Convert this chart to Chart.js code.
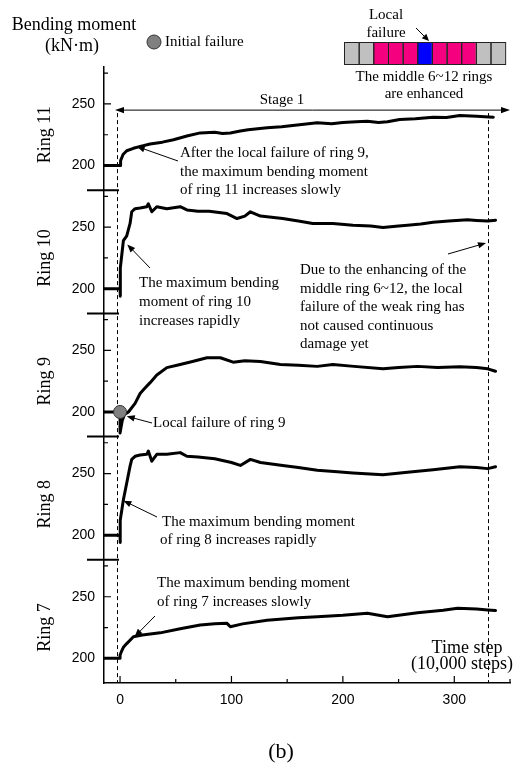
<!DOCTYPE html>
<html>
<head>
<meta charset="utf-8">
<script src="https://cdn.jsdelivr.net/npm/chart.js@4.4.1/dist/chart.umd.min.js"></script>
<style>
  html, body { margin: 0; padding: 0; background: #fff; }
  #wrap { width: 518px; height: 766px; position: relative; }
</style>
</head>
<body>
<div id="wrap"><canvas id="chart"></canvas></div>
<script>
// Max bending moment of rings 7-11 over time, five stacked panels on one
// shared x axis. Each panel spans 180-280 kN·m, so a ring's values are
// shifted by 100 per panel onto one linear y scale (0-500).

const ring7Steps = [-14.4, 0, 0, 1, 3, 6, 12, 20, 36, 54, 72, 85, 96, 99, 110, 132, 160, 177, 200, 222, 240, 267, 290, 303, 320, 330, 337];
const ring7Moment = [200, 200, 202.5, 205, 209, 212, 217.5, 219, 220.7, 224, 227, 228, 228.4, 225.6, 228, 231, 233, 233.8, 235, 236.6, 233.8, 237, 239, 240.7, 240, 239.3, 238.8];

const ring8Steps = [-14.4, 0, 0, 0.3, 3, 6, 9, 10.5, 13.5, 18, 24, 25.4, 28.5, 33, 42, 54, 60, 70, 85, 100, 108, 117, 126, 146, 160, 177, 195, 209, 236, 258, 281, 305, 320, 330, 337];
const ring8Moment = [200, 200, 194, 212, 228.7, 242.4, 256, 261.5, 264, 265, 265.6, 268.3, 260, 265.6, 265.6, 267, 264, 263.5, 262, 259, 256.6, 261.5, 259, 256.5, 255, 252.7, 251.5, 250.5, 249, 251, 253, 255.5, 255, 254, 255.5];

const ring9Steps = [-14.4, 0, 0, 2, 4, 7.5, 13.5, 18, 22, 27, 33, 42, 54, 65, 78, 90, 101.5, 112, 126, 144, 160, 177, 191, 210, 236, 250, 267, 285, 305, 320, 330, 337];
const ring9Moment = [200, 200, 183, 193, 198, 200, 207, 215, 219, 223.8, 230, 236, 238.5, 241, 244, 244, 240.4, 241.5, 241, 238.5, 238, 237, 238.5, 237, 235, 236, 237, 236, 236.6, 236, 235, 233];

const ring10Steps = [-14.4, 0, 0, 0.5, 3, 6, 9, 10.5, 13.5, 18, 24, 25.4, 28.5, 33, 42, 54, 60, 70, 80, 96, 105, 112, 117, 126, 146, 160, 173, 191, 209, 225, 236, 250, 258, 270, 281, 295, 312, 320, 330, 337];
const ring10Moment = [200, 200, 194, 217, 239, 243, 253, 262.5, 265, 265.5, 266.6, 269, 262.5, 266.6, 265, 266.6, 264, 263, 263, 261, 257, 259, 262.5, 259, 257, 255, 253, 253, 251.6, 251, 249.7, 251, 251.6, 252.5, 254, 255, 256, 255.5, 255, 255.7];

const ring11Steps = [-14.4, 0, 0.5, 2.7, 6, 12, 20, 27, 38, 48, 60, 72, 85, 92, 99, 108, 115, 132, 145, 155, 177, 190, 200, 212, 222, 232, 240, 251, 265, 281, 293, 305, 320, 335];
const ring11Moment = [200, 200, 204, 209, 212, 214, 216, 217.5, 219, 221, 224, 226.5, 227, 226, 226.5, 228, 229, 230.6, 231.5, 232.5, 234.7, 234, 235, 235.5, 236, 235, 235.5, 237.4, 238, 239.3, 239, 240.7, 240, 239.3];

const ringLabels = ['Ring 7', 'Ring 8', 'Ring 9', 'Ring 10', 'Ring 11'];
const yMajorTicks = [200, 250];
const yMinorTicks = [225, 275];
const xMajorTicks = [0, 100, 200, 300];
const xMinorTicks = [50, 150, 250, 350];

// initial failure marker: ring 9 (panel 2) at step 0
const failureStep = 0;
const failureMoment = 200;

// Stage 1 bounds (dashed lines) and the height of its arrow in the ring 11 panel
const stageStart = -2.7;
const stageEnd = 330;
const stageArrowMoment = 245;

const ringCellColors = ['#c0c0c0', '#c0c0c0', '#f5007f', '#f5007f', '#f5007f', '#0000ff',
  '#f5007f', '#f5007f', '#f5007f', '#c0c0c0', '#c0c0c0'];

const PANEL_MIN = 180;
const PANEL_SPAN = 100;
const SERIF = '"Liberation Serif", "Times New Roman", serif';
const SANS = '"Liberation Sans", Arial, sans-serif';

const shift = (panel, v) => v - PANEL_MIN + PANEL_SPAN * panel;

const ringSeries = [
  [ring7Steps, ring7Moment],
  [ring8Steps, ring8Moment],
  [ring9Steps, ring9Moment],
  [ring10Steps, ring10Moment],
  [ring11Steps, ring11Moment],
];

const datasets = ringSeries.map(([steps, moment], panel) => ({
  label: ringLabels[panel],
  data: steps.map((s, i) => ({ x: s, y: shift(panel, moment[i]) })),
  borderColor: '#000',
  borderWidth: 3,
  borderJoinStyle: 'round',
  borderCapStyle: 'round',
  pointRadius: 0,
  tension: 0,
  fill: false,
  order: 2,
}));

datasets.push({
  label: 'Initial failure',
  type: 'scatter',
  data: [{ x: failureStep, y: shift(2, failureMoment) }],
  pointRadius: 6.5,
  pointBackgroundColor: '#808080',
  pointBorderColor: '#333',
  pointBorderWidth: 1,
  order: 1,
});

function arrow(ctx, x1, y1, x2, y2, head = 8) {
  const a = Math.atan2(y2 - y1, x2 - x1);
  ctx.beginPath();
  ctx.moveTo(x1, y1);
  ctx.lineTo(x2 - Math.cos(a) * head * 0.8, y2 - Math.sin(a) * head * 0.8);
  ctx.stroke();
  ctx.beginPath();
  ctx.moveTo(x2, y2);
  ctx.lineTo(x2 - head * Math.cos(a) + 3.2 * Math.sin(a), y2 - head * Math.sin(a) - 3.2 * Math.cos(a));
  ctx.lineTo(x2 - head * Math.cos(a) - 3.2 * Math.sin(a), y2 - head * Math.sin(a) + 3.2 * Math.cos(a));
  ctx.closePath();
  ctx.fill();
}

function textLines(ctx, lines, x, y, lh, align = 'left') {
  ctx.textAlign = align;
  lines.forEach((t, i) => ctx.fillText(t, x, y + i * lh));
}

const underlay = {
  id: 'underlay',
  beforeDatasetsDraw(chart) {
    const { ctx, scales: { x, y } } = chart;
    const top = y.getPixelForValue(shift(4, stageArrowMoment));
    ctx.save();
    ctx.strokeStyle = '#000';
    ctx.lineWidth = 1;
    ctx.setLineDash([4, 3]);
    [stageStart, stageEnd].forEach((s) => {
      const px = Math.round(x.getPixelForValue(s)) + 0.5;
      ctx.beginPath();
      ctx.moveTo(px, top + 3);
      ctx.lineTo(px, y.getPixelForValue(0));
      ctx.stroke();
    });
    ctx.restore();
  },
};

const decor = {
  id: 'decor',
  afterDraw(chart) {
    const { ctx, scales: { x, y } } = chart;
    const axisX = x.left;
    const axisY = y.bottom;
    ctx.save();
    ctx.strokeStyle = '#000';
    ctx.fillStyle = '#000';

    // inward ticks
    ctx.lineWidth = 1.2;
    ctx.beginPath();
    xMajorTicks.forEach((v) => { const p = x.getPixelForValue(v); ctx.moveTo(p, axisY); ctx.lineTo(p, axisY - 7); });
    xMinorTicks.forEach((v) => { const p = x.getPixelForValue(v); ctx.moveTo(p, axisY); ctx.lineTo(p, axisY - 4); });
    for (let k = 0; k < 5; k++) {
      yMajorTicks.forEach((v) => { const p = y.getPixelForValue(shift(k, v)); ctx.moveTo(axisX, p); ctx.lineTo(axisX + 7, p); });
      yMinorTicks.forEach((v) => { const p = y.getPixelForValue(shift(k, v)); ctx.moveTo(axisX, p); ctx.lineTo(axisX + 4, p); });
    }
    ctx.stroke();

    // axis breaks between panels
    ctx.lineWidth = 2;
    ctx.beginPath();
    for (let k = 1; k < 5; k++) {
      const p = y.getPixelForValue(PANEL_SPAN * k);
      ctx.moveTo(axisX - 17, p);
      ctx.lineTo(x.getPixelForValue(stageStart) + 2, p);
    }
    ctx.stroke();

    // panel labels
    ctx.font = `18px ${SERIF}`;
    ctx.textBaseline = 'middle';
    ctx.textAlign = 'center';
    ringLabels.forEach((label, k) => {
      ctx.save();
      ctx.translate(45, y.getPixelForValue(shift(k, 225)));
      ctx.rotate(-Math.PI / 2);
      ctx.fillText(label, 0, 0);
      ctx.restore();
    });

    // header
    textLines(ctx, ['Bending moment'], 74, 25, 0, 'center');
    textLines(ctx, ['(kN\u00b7m)'], 72, 46, 0, 'center');
    ctx.beginPath();
    ctx.arc(154, 42, 7, 0, Math.PI * 2);
    ctx.fillStyle = '#808080';
    ctx.fill();
    ctx.lineWidth = 1;
    ctx.strokeStyle = '#333';
    ctx.stroke();
    ctx.fillStyle = '#000';
    ctx.strokeStyle = '#000';
    ctx.font = `15px ${SERIF}`;
    textLines(ctx, ['Initial failure'], 165, 42, 0);

    // ring layout sketch
    const cellW = 14.65;
    ringCellColors.forEach((c, i) => {
      ctx.fillStyle = c;
      ctx.fillRect(344 + i * cellW, 42, cellW, 22);
    });
    ctx.lineWidth = 1;
    ctx.strokeStyle = '#222';
    ringCellColors.forEach((c, i) => ctx.strokeRect(344 + i * cellW + 0.5, 42.5, cellW, 22));
    ctx.fillStyle = '#000';
    ctx.strokeStyle = '#000';
    textLines(ctx, ['Local', 'failure'], 386, 15, 18, 'center');
    arrow(ctx, 416, 28, 429, 41, 7);
    textLines(ctx, ['The middle 6~12 rings', 'are enhanced'], 424, 77, 17, 'center');

    // stage 1 span
    const sy = y.getPixelForValue(shift(4, stageArrowMoment));
    const sx1 = x.getPixelForValue(-4.5);
    const sx2 = x.getPixelForValue(350);
    ctx.lineWidth = 1;
    arrow(ctx, (sx1 + sx2) / 2, sy, sx1, sy, 9);
    arrow(ctx, (sx1 + sx2) / 2, sy, sx2, sy, 9);
    textLines(ctx, ['Stage 1'], 282, 100, 0, 'center');

    // annotations
    const pt = (panel, step, v) => [x.getPixelForValue(step), y.getPixelForValue(shift(panel, v))];
    textLines(ctx, ['After the local failure of ring 9,', 'the maximum bending moment', 'of ring 11 increases slowly'], 180, 153, 18.7);
    arrow(ctx, 178, 161, ...pt(4, 15, 215.5));

    textLines(ctx, ['The maximum bending', 'moment of ring 10', 'increases rapidly'], 139, 283, 19);
    arrow(ctx, 150, 268, ...pt(3, 6.5, 236));

    textLines(ctx, ['Due to the enhancing of the', 'middle ring 6~12, the local', 'failure of the weak ring has',
      'not caused continuous', 'damage yet'], 300, 270, 18.6);
    arrow(ctx, 448, 254, 486, 243);

    textLines(ctx, ['Local failure of ring 9'], 153, 423, 0);
    arrow(ctx, 152, 423, ...pt(2, 6, 196.5));

    textLines(ctx, ['The maximum bending moment'], 162, 522, 0);
    textLines(ctx, ['of ring 8 increases rapidly'], 160, 540, 0);
    arrow(ctx, 157, 517, ...pt(1, 3, 228));

    textLines(ctx, ['The maximum bending moment', 'of ring 7 increases slowly'], 157, 583, 19);
    arrow(ctx, 155, 616, ...pt(0, 13, 217.5));

    ctx.font = `18px ${SERIF}`;
    textLines(ctx, ['Time step'], 467, 648, 0, 'center');
    textLines(ctx, ['(10,000 steps)'], 462, 664, 0, 'center');

    ctx.font = `22px ${SERIF}`;
    textLines(ctx, ['(b)'], 281, 752, 0, 'center');
    ctx.restore();
  },
};

new Chart(document.getElementById('chart'), {
  type: 'line',
  data: { datasets },
  plugins: [underlay, decor],
  options: {
    responsive: true,
    maintainAspectRatio: false,
    animation: false,
    devicePixelRatio: 1,
    layout: { padding: { top: 67, right: 8, left: 0, bottom: 0 } },
    plugins: { legend: { display: false }, tooltip: { enabled: false } },
    scales: {
      x: {
        type: 'linear',
        min: -14.4,
        max: 350,
        afterBuildTicks: (s) => { s.ticks = xMajorTicks.map((v) => ({ value: v })); },
        afterFit: (s) => { s.height = 83; },
        ticks: { color: '#000', font: { family: SANS, size: 14 }, padding: 9, maxRotation: 0 },
        grid: { display: true, drawOnChartArea: false, drawTicks: false },
        border: { display: true, color: '#000', width: 1.5 },
      },
      y: {
        type: 'linear',
        min: 0,
        max: PANEL_SPAN * 5,
        afterBuildTicks: (s) => {
          const t = [];
          for (let k = 0; k < 5; k++) yMajorTicks.forEach((v) => t.push({ value: shift(k, v) }));
          s.ticks = t;
        },
        afterFit: (s) => { s.width = 104; },
        ticks: {
          color: '#000',
          font: { family: SANS, size: 14 },
          padding: 9,
          callback: (v) => String((v % PANEL_SPAN) + PANEL_MIN),
        },
        grid: { display: true, drawOnChartArea: false, drawTicks: false },
        border: { display: true, color: '#000', width: 1.5 },
      },
    },
  },
});
</script>
</body>
</html>
